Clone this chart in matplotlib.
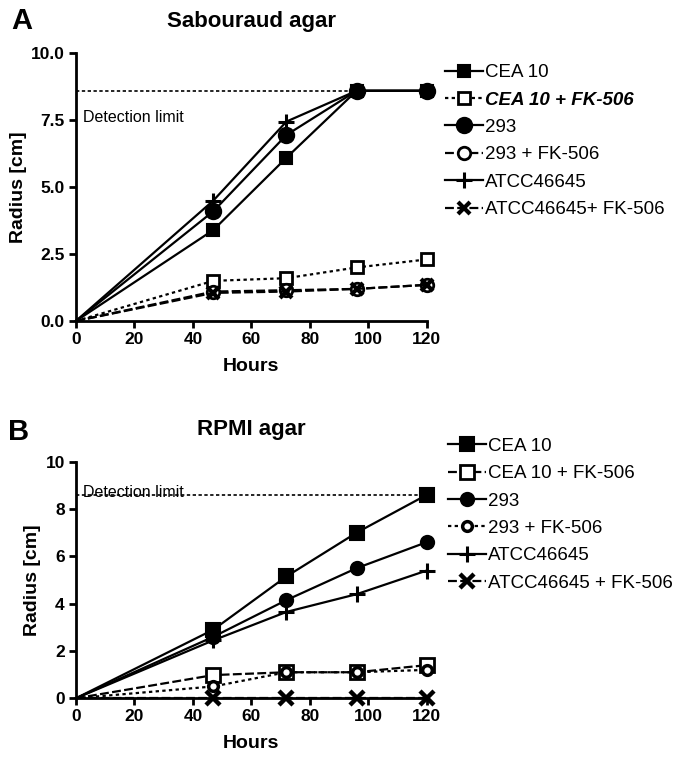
import matplotlib
matplotlib.use('Agg')
from matplotlib import pyplot as plt

plt.rcParams['font.family'] = ['Liberation Sans', 'DejaVu Sans']

# data
hours = [0, 47, 72, 96, 120]
labels_a = ['CEA 10', 'CEA 10 + FK-506', '293', '293 + FK-506', 'ATCC46645', 'ATCC46645+ FK-506']
labels_b = ['CEA 10', 'CEA 10 + FK-506', '293', '293 + FK-506', 'ATCC46645', 'ATCC46645 + FK-506']

sab_cea10 = [0, 3.4, 6.1, 8.6, 8.6]
sab_cea10_fk = [0, 1.5, 1.6, 2.0, 2.3]
sab_293 = [0, 4.1, 6.95, 8.6, 8.6]
sab_293_fk = [0, 1.1, 1.15, 1.2, 1.35]
sab_atcc = [0, 4.5, 7.45, 8.6, 8.6]
sab_atcc_fk = [0, 1.05, 1.1, 1.2, 1.35]

rpmi_cea10 = [0, 2.9, 5.15, 7.0, 8.6]
rpmi_cea10_fk = [0, 0.98, 1.1, 1.1, 1.4]
rpmi_293 = [0, 2.6, 4.15, 5.5, 6.6]
rpmi_293_fk = [0, 0.5, 1.1, 1.1, 1.2]
rpmi_atcc = [0, 2.45, 3.65, 4.4, 5.4]
rpmi_atcc_fk = [0, 0, 0, 0, 0]

detection_limit = 8.6

DOT = (1.5, 1.5)
DASH = (4, 1.5)


def style_axes(ax, yticks, fmt):
   for s in ['top', 'right']:
      ax.spines[s].set_visible(False)
   for s in ['left', 'bottom']:
      ax.spines[s].set_linewidth(2)
   ax.set_xlim(0, 120)
   ax.set_ylim(0, 10)
   ax.set_xticks(range(0, 121, 20))
   ax.set_yticks(yticks)
   ax.set_yticklabels([fmt % t for t in yticks])
   ax.tick_params(width=2, length=5, labelsize=12.5, direction='out', pad=3)
   for t in ax.get_xticklabels() + ax.get_yticklabels():
      t.set_fontweight('bold')
   ax.set_xlabel('Hours', fontsize=14, fontweight='bold', labelpad=8)
   ax.set_ylabel('Radius [cm]', fontsize=14, fontweight='bold', labelpad=3)


def plot_series(ax, y, marker, ms, filled, dashes):
   kw = dict(color='black', lw=1.6, marker=marker, markersize=ms, clip_on=False,
             markeredgewidth=2 if not filled else 1.5, zorder=3,
             markevery=[1, 2, 3, 4])
   if not filled:
      kw['markerfacecolor'] = 'white'
   line, = ax.plot(hours, y, **kw)
   if dashes is not None:
      line.set_dashes(dashes)
   return line


def add_legend(handles, labels, x, y):
   return fig.legend(handles, labels, loc='upper left', bbox_to_anchor=(x, y),
                     frameon=False, fontsize=13.5, handlelength=2.0, handletextpad=0.15,
                     borderpad=0, borderaxespad=0, labelspacing=0.55)


fig = plt.figure(figsize=(6.84, 7.58), dpi=100)

# panel A
axA = fig.add_axes([0.111, 0.5765, 0.513, 0.3532])
axA.axhline(detection_limit, color='black', lw=1.2, dashes=(2, 1.5))
axA.text(2.4, 7.62, 'Detection limit', fontsize=11.5, va='center')
la = [
   plot_series(axA, sab_cea10, 's', 8.5, True, None),
   plot_series(axA, sab_cea10_fk, 's', 9, False, DOT),
   plot_series(axA, sab_293, 'o', 11, True, None),
   plot_series(axA, sab_293_fk, 'o', 9, False, DASH),
   plot_series(axA, sab_atcc, '+', 12, True, None),
   plot_series(axA, sab_atcc_fk, 'x', 9, True, DASH),
]
la[4].set_markeredgewidth(2.2)
la[5].set_markeredgewidth(3)
style_axes(axA, [0, 2.5, 5.0, 7.5, 10.0], '%.1f')
axA.set_title('Sabouraud agar', fontsize=16, fontweight='bold', pad=19)
legA = add_legend(la, labels_a, 0.6506, 0.9156)
legA.get_texts()[1].set_fontweight('bold')
legA.get_texts()[1].set_fontstyle('italic')
fig.text(0.016, 0.972, 'A', fontsize=21, fontweight='bold', va='center')

# panel B
axB = fig.add_axes([0.111, 0.0788, 0.513, 0.3121])
axB.axhline(detection_limit, color='black', lw=1.2, dashes=(2, 1.5))
axB.text(2.4, 8.5, 'Detection limit', fontsize=11.5, va='baseline')
lb = [
   plot_series(axB, rpmi_cea10, 's', 10.5, True, None),
   plot_series(axB, rpmi_cea10_fk, 's', 10.5, False, DASH),
   plot_series(axB, rpmi_293, 'o', 9.5, True, None),
   plot_series(axB, rpmi_293_fk, 'o', 7, False, DOT),
   plot_series(axB, rpmi_atcc, '+', 12, True, None),
   plot_series(axB, rpmi_atcc_fk, 'x', 10, True, DASH),
]
lb[3].set_markeredgewidth(2.5)
lb[4].set_markeredgewidth(2.2)
lb[5].set_markeredgewidth(3.2)
style_axes(axB, [0, 2, 4, 6, 8, 10], '%d')
axB.set_title('RPMI agar', fontsize=16, fontweight='bold', pad=19)
add_legend(lb, labels_b, 0.655, 0.4228)
fig.text(0.012, 0.43, 'B', fontsize=21, fontweight='bold', va='center')

fig.savefig('out.png', dpi=100)
